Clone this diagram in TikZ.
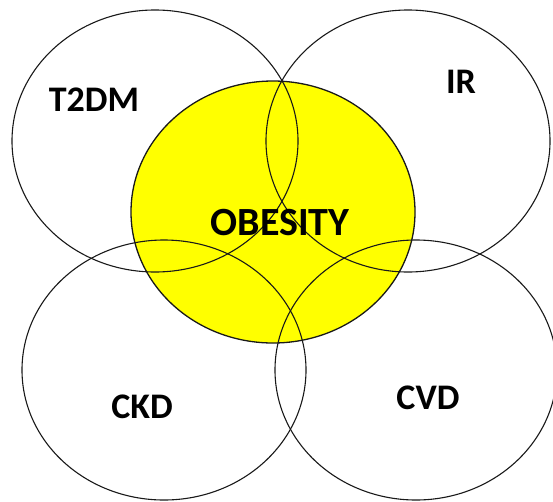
\documentclass[tikz,border=0pt]{standalone}
\usepackage{fontspec}
\setmainfont{Carlito}
\usetikzlibrary{shapes.geometric}
\definecolor{pureyellow}{RGB}{255,255,0}
\begin{document}
\begin{tikzpicture}[x=1pt,y=-1pt,
  venn/.style={ellipse, draw=black!90, line width=1.1pt, inner sep=0pt},
  lbl/.style={font=\fontsize{36}{36}\selectfont\bfseries, text=black, inner sep=0pt}]
\useasboundingbox (0,0) rectangle (553,501);
\clip (0,0) rectangle (553,501);
% yellow fill first
\node[venn, fill=pureyellow, draw=none, minimum width=284pt, minimum height=262pt] (obf) at (273,212) {};
% outlines
\node[venn, minimum width=286pt, minimum height=262pt] (t2dm) at (155,141) {};
\node[venn, minimum width=284pt, minimum height=262pt] (ir) at (408,141) {};
\node[venn, line width=1.3pt, minimum width=284pt, minimum height=262pt] (ob) at (273,212) {};
\node[venn, minimum width=284pt, minimum height=260pt] (ckd) at (164,370) {};
\node[venn, minimum width=282pt, minimum height=260pt] (cvd) at (416,370) {};
% labels
\node[lbl] (lt2dm) at (94,100) {T2DM};
\node[lbl] (lir) at (461,82) {IR};
\node[lbl, font=\fontsize{40}{40}\selectfont\bfseries] (lob) at (280,223) {OBESITY};
\node[lbl] (lckd) at (142,407) {CKD};
\node[lbl] (lcvd) at (428,398) {CVD};
\end{tikzpicture}
\end{document}
